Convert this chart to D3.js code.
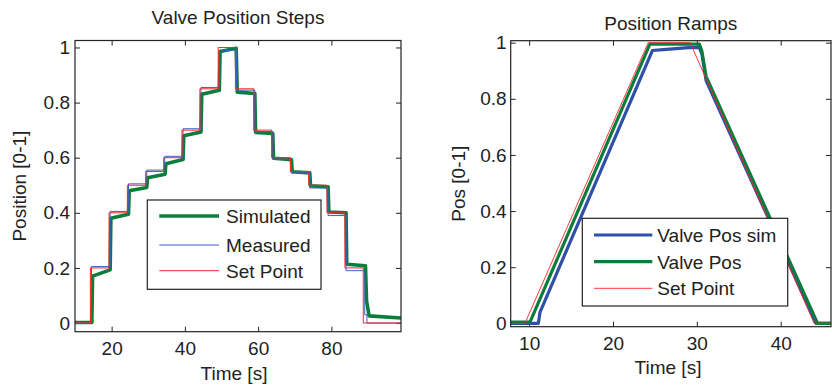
<!DOCTYPE html>
<html>
<head>
<meta charset="utf-8">
<script src="https://cdn.jsdelivr.net/npm/d3@7"></script>
<style>
  html, body { margin: 0; padding: 0; background: #ffffff; }
  svg { display: block; font-family: "Liberation Sans", Arial, Helvetica, sans-serif; }
  text { fill: #222222; }
</style>
</head>
<body>
<svg id="chart" width="832" height="385"></svg>
<script>
// ---------------- DATA ----------------
// Left panel: Valve Position Steps
const leftXTicks = [20, 40, 60, 80];
const yTicks = [0, 0.2, 0.4, 0.6, 0.8, 1];
const yTickLabels = ["0", "0.2", "0.4", "0.6", "0.8", "1"];

// Set point (step-after)
const spTime  = [10, 14.2, 19.3, 24.3, 29.3, 34.2, 39.2, 44.1, 49.1, 53.8, 58.8, 63.7, 68.8, 73.8, 78.8, 83.7, 88.7, 99];
const spValue = [0,  0.2,  0.4,  0.5,  0.55, 0.6,  0.7,  0.85, 1.0,  0.85, 0.7,  0.6,  0.55, 0.5,  0.4,  0.2,  0,    0];

// Measured (step-after)
const measTime  = [10, 14.5,  19.6,  24.6,  29.6,  34.5,  39.5,  44.4,  49.4, 54.1,  59.1,  64.0,  69.1,  74.1,  79.1, 84.0, 89.1, 89.7, 99];
const measValue = [0,  0.205, 0.405, 0.505, 0.555, 0.605, 0.705, 0.855, 0.99, 0.845, 0.695, 0.595, 0.545, 0.49,  0.39, 0.19, 0.03, 0,    0];

// Simulated (linear through points)
const simTime  = [10, 14.6, 14.8, 19.6, 19.8, 24.6, 24.8, 29.6, 29.8, 34.6, 34.8, 39.5, 39.7, 44.4, 44.6, 49.4, 49.6, 54.0, 54.3, 59.1, 59.3, 64.0, 64.2, 69.1, 69.3, 74.1, 74.3, 79.1, 79.3, 84.0, 84.2, 89.3, 89.6, 90.3, 99];
const simValue = [0.002, 0.002, 0.17, 0.193, 0.38, 0.395, 0.48, 0.492, 0.527, 0.54, 0.578, 0.593, 0.68, 0.693, 0.83, 0.845, 0.985, 0.997, 0.838, 0.833, 0.692, 0.688, 0.598, 0.593, 0.549, 0.545, 0.498, 0.494, 0.403, 0.4, 0.213, 0.208, 0.08, 0.026, 0.018];

// Right panel: Position Ramps
const rightXTicks = [10, 20, 30, 40];
const rampSpTime   = [7.8, 9.5, 24.2, 29.2, 44.0, 46];
const rampSpValue  = [0,   0,   1.0,  1.0,  0,    0];
const rampPosTime  = [7.8,   10.1,  24.4,  30.3,  30.6, 31.1, 44.4, 46];
const rampPosValue = [0.004, 0.004, 0.995, 0.995, 0.97, 0.88, 0,    0];
const rampSimTime  = [7.8, 11.1, 11.3, 24.7,  26.0,  29.0,  30.3,  30.6, 31.1,  44.2, 46];
const rampSimValue = [0,   0,    0.04, 0.972, 0.975, 0.982, 0.982, 0.96, 0.865, 0,    0];

// ---------------- DRAW ----------------
const svg = d3.select("#chart");
const FONT = 19;
const FAMILY = '"Liberation Sans", Arial, Helvetica, sans-serif';
const GREEN = "#0c7c3d", BLUE = "#2f4fa8", BLUE_THIN = "#3d5fc0", RED = "#ff2424";

function zip(ts, vs) { return ts.map((t, i) => ({t: t, v: vs[i]})); }

function panel(cfg) {
  const x = d3.scaleLinear().domain(cfg.xDomain).range([cfg.x0, cfg.x1]);
  const y = d3.scaleLinear().domain(cfg.yDomain).range([cfg.y1, cfg.y0]);
  const g = svg.append("g");

  const clipId = "clip" + cfg.id;
  svg.append("defs").append("clipPath").attr("id", clipId)
    .append("rect").attr("x", cfg.x0).attr("y", cfg.y0)
    .attr("width", cfg.x1 - cfg.x0).attr("height", cfg.y1 - cfg.y0);

  // axes
  const tickLen = 5;
  const fmtY = d => yTickLabels[yTicks.indexOf(d)];
  const bottom = g.append("g").attr("transform", `translate(0,${cfg.y1})`)
    .call(d3.axisBottom(x).tickValues(cfg.xTicks).tickSize(-tickLen).tickPadding(9.5));
  const top = g.append("g").attr("transform", `translate(0,${cfg.y0})`)
    .call(d3.axisTop(x).tickValues(cfg.xTicks).tickSize(-tickLen).tickFormat(""));
  const left = g.append("g").attr("transform", `translate(${cfg.x0},0)`)
    .call(d3.axisLeft(y).tickValues(yTicks).tickSize(-tickLen).tickPadding(cfg.yPad).tickFormat(fmtY));
  const right = g.append("g").attr("transform", `translate(${cfg.x1},0)`)
    .call(d3.axisRight(y).tickValues(yTicks).tickSize(-tickLen).tickFormat(""));
  [bottom, top, left, right].forEach(a => {
    a.attr("font-family", FAMILY).attr("font-size", FONT);
    a.select(".domain").remove();
    a.selectAll(".tick line").attr("stroke", "#222").attr("stroke-width", 1);
    a.selectAll(".tick text").attr("font-size", FONT).attr("font-family", FAMILY).style("fill", "#222");
  });

  // series
  const plot = g.append("g").attr("clip-path", `url(#${clipId})`);
  cfg.series.forEach(s => {
    const line = d3.line().x(d => x(d.t)).y(d => y(d.v))
      .curve(s.step ? d3.curveStepAfter : d3.curveLinear);
    plot.append("path").datum(zip(s.t, s.v))
      .attr("fill", "none").attr("stroke", s.color)
      .attr("stroke-width", s.width).attr("stroke-linejoin", "round")
      .attr("d", line);
  });

  // frame
  g.append("rect").attr("x", cfg.x0).attr("y", cfg.y0)
    .attr("width", cfg.x1 - cfg.x0).attr("height", cfg.y1 - cfg.y0)
    .attr("fill", "none").attr("stroke", "#222").attr("stroke-width", 1.2);

  // title and labels
  g.append("text").attr("x", (cfg.x0 + cfg.x1) / 2).attr("y", cfg.titleY)
    .attr("text-anchor", "middle").attr("font-size", FONT).text(cfg.title);
  g.append("text").attr("x", cfg.xLabelX).attr("y", cfg.xLabelY)
    .attr("text-anchor", "middle").attr("font-size", FONT).text(cfg.xLabel);
  g.append("text")
    .attr("transform", `translate(${cfg.yLabelX},${(cfg.y0 + cfg.y1) / 2}) rotate(-90)`)
    .attr("text-anchor", "middle").attr("font-size", FONT).text(cfg.yLabel);

  // legend
  const L = cfg.legend;
  const lg = g.append("g");
  lg.append("rect").attr("x", L.x).attr("y", L.y).attr("width", L.w).attr("height", L.h)
    .attr("fill", "#fff").attr("stroke", "#222").attr("stroke-width", 1.2);
  L.items.forEach((it, i) => {
    const s = cfg.series[it.series];
    const yy = L.rows[i];
    lg.append("line").attr("x1", L.lx1).attr("x2", L.lx2).attr("y1", yy).attr("y2", yy)
      .attr("stroke", s.color).attr("stroke-width", s.width);
    lg.append("text").attr("x", L.tx).attr("y", yy + 7).attr("font-size", FONT).text(it.label);
  });
}

panel({
  id: "L", x0: 75, x1: 401, y0: 40.5, y1: 331.7,
  xDomain: [10, 99], yDomain: [-0.0315, 1.0253],
  xTicks: leftXTicks, yPad: 5,
  title: "Valve Position Steps", titleY: 23.6,
  xLabel: "Time [s]", xLabelX: 234, xLabelY: 379.5,
  yLabel: "Position [0-1]", yLabelX: 26,
  series: [
    {t: simTime, v: simValue, color: GREEN, width: 3.6},
    {t: measTime, v: measValue, color: BLUE_THIN, width: 1, step: true},
    {t: spTime, v: spValue, color: RED, width: 1, step: true}
  ],
  legend: {
    x: 147.3, y: 200, w: 173.7, h: 89.3,
    lx1: 159.3, lx2: 219, tx: 226, rows: [216, 245, 270.7],
    items: [{series: 0, label: "Simulated"}, {series: 1, label: "Measured"}, {series: 2, label: "Set Point"}]
  }
});

panel({
  id: "R", x0: 510.7, x1: 831, y0: 40.7, y1: 326.7,
  xDomain: [7.8, 46], yDomain: [-0.012, 1.007],
  xTicks: rightXTicks, yPad: 4,
  title: "Position Ramps", titleY: 30,
  xLabel: "Time [s]", xLabelX: 668, xLabelY: 373.6,
  yLabel: "Pos [0-1]", yLabelX: 465,
  series: [
    {t: rampSimTime, v: rampSimValue, color: BLUE, width: 3.2},
    {t: rampPosTime, v: rampPosValue, color: GREEN, width: 3.2},
    {t: rampSpTime, v: rampSpValue, color: RED, width: 0.9}
  ],
  legend: {
    x: 582.3, y: 218.3, w: 205.4, h: 87.7,
    lx1: 594, lx2: 652.3, tx: 657.3, rows: [235, 261.7, 288.3],
    items: [{series: 0, label: "Valve Pos sim"}, {series: 1, label: "Valve Pos"}, {series: 2, label: "Set Point"}]
  }
});
</script>
</body>
</html>
